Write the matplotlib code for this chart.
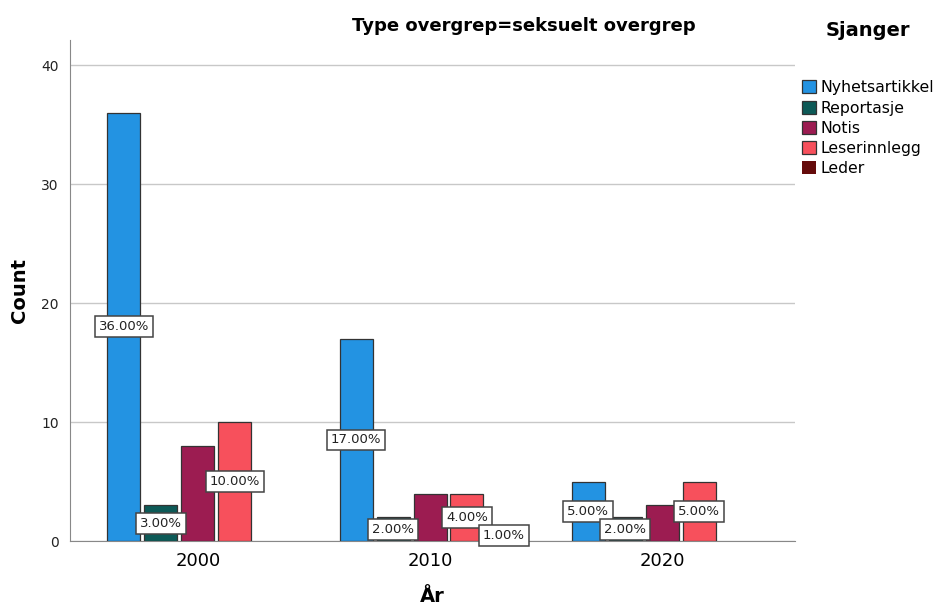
import matplotlib
matplotlib.use("Agg")
import matplotlib.pyplot as plt
import numpy as np

years = ["2000", "2010", "2020"]
genres = ["Nyhetsartikkel", "Reportasje", "Notis", "Leserinnlegg", "Leder"]
nyhetsartikkel = [36, 17, 5]
reportasje = [3, 2, 2]
notis = [8, 4, 3]
leserinnlegg = [10, 4, 5]
leder = [0, 1, 0]
colors = ["#2393E2", "#0D5A57", "#9C1C51", "#F7505C", "#650B0B"]
# SPSS left the Notis labels out (overlap), so do the same
show_label = [True, True, False, True, True]

series = [nyhetsartikkel, reportasje, notis, leserinnlegg, leder]
total = sum(sum(s) for s in series)

fig = plt.figure(figsize=(9.35, 6.08), dpi=100)
ax = fig.add_axes([0.0749, 0.110, 0.775, 0.824])

x = np.arange(len(years))
slot = 0.159
width = 0.142
for i, (name, vals) in enumerate(zip(genres, series)):
    xs = x + (i - 2) * slot
    # zero counts get no bar at all (otherwise the edge shows as a line)
    lw = [0.9 if v > 0 else 0 for v in vals]
    ax.bar(xs, vals, width=width, color=colors[i], edgecolor="#333333",
           linewidth=lw, label=name, zorder=3)
    if not show_label[i]:
        continue
    for xi, v in zip(xs, vals):
        if v == 0:
            continue
        ax.text(xi, v / 2, "%.2f%%" % (v / total * 100), ha="center", va="center",
                fontsize=9.5, color="#222222", zorder=5,
                bbox=dict(boxstyle="square,pad=0.3", fc="white", ec="#444444", lw=1.1))

ax.set_xlim(-0.55, 2.57)
ax.set_ylim(0, 42.1)
ax.set_yticks([0, 10, 20, 30, 40])
ax.set_xticks(x)
ax.set_xticklabels(years, fontsize=13)
ax.tick_params(axis="x", length=0, pad=8)
ax.tick_params(axis="y", length=0, labelsize=10, pad=8, colors="#222222")
ax.grid(axis="y", color="#c8c8c8", linewidth=1, zorder=0)
for s in ["top", "right"]:
    ax.spines[s].set_visible(False)
ax.spines["left"].set_color("#888888")
ax.spines["bottom"].set_color("#888888")
ax.set_ylabel("Count", fontsize=14, fontweight="bold", labelpad=9)
ax.set_xlabel("År", fontsize=14, fontweight="bold", labelpad=12)

fig.text(0.56, 0.958, "Type overgrep=seksuelt overgrep", ha="center", va="center",
         fontsize=13, fontweight="bold")

leg = ax.legend(loc="upper left", bbox_to_anchor=(0.995, 1.06), frameon=False,
                title="Sjanger", fontsize=11.3, handlelength=0.9, handleheight=0.9,
                handletextpad=0.3, labelspacing=0.33, borderaxespad=0.3)
leg.get_title().set_fontweight("bold")
leg.get_title().set_fontsize(14)
leg._legend_box.sep = 29

fig.savefig("out.png", dpi=100)
